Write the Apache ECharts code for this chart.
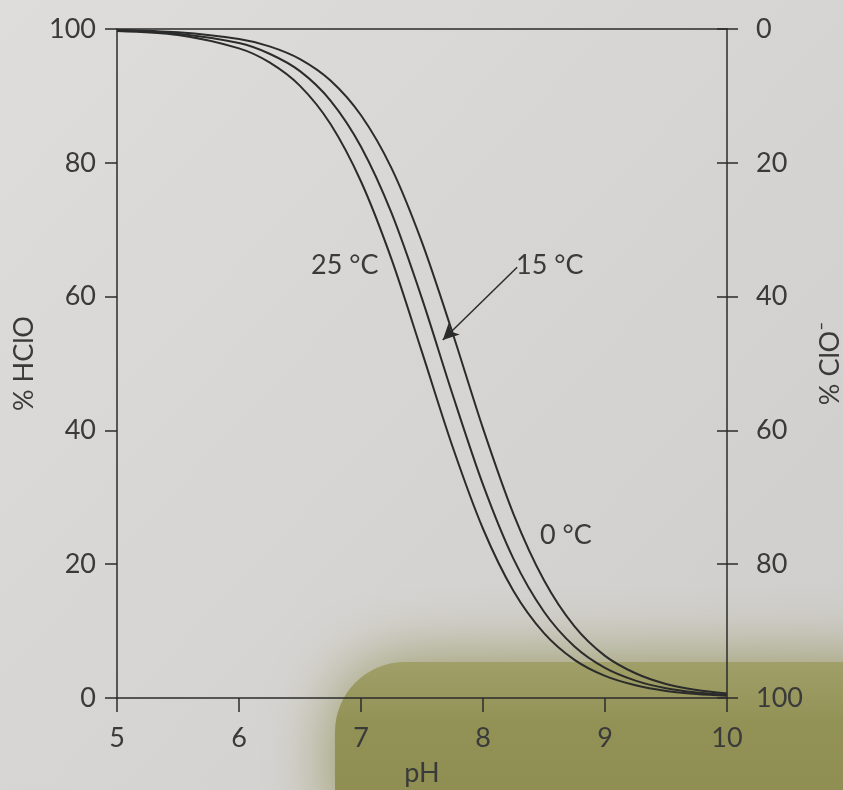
<!DOCTYPE html>
<html>
<head>
<meta charset="utf-8">
<script src="https://cdn.jsdelivr.net/npm/echarts@6/dist/echarts.min.js"></script>
<style>
html,body{margin:0;padding:0;background:#d8d6d4;overflow:hidden;}
#chart{width:843px;height:790px;}
</style>
</head>
<body>
<div id="chart"></div>
<script>
// pH values
const phValues = [5, 5.5, 6, 6.25, 6.5, 6.75, 7, 7.25, 7.5, 7.75, 8, 8.25, 8.5, 8.75, 9, 9.25, 9.5, 9.75, 10];
// % HClO
const hclo25C = [99.7, 99.1, 97.1, 95.0, 91.5, 85.8, 77.2, 65.6, 51.7, 37.6, 25.3, 16.0, 9.7, 5.7, 3.3, 1.9, 1.06, 0.6, 0.34];
const hclo15C = [99.8, 99.3, 97.9, 96.3, 93.7, 89.3, 82.4, 72.5, 59.7, 45.4, 31.9, 20.8, 12.9, 7.7, 4.5, 2.6, 1.46, 0.83, 0.47];
const hclo0C  = [99.85, 99.5, 98.5, 97.4, 95.5, 92.3, 87.1, 79.2, 68.1, 54.6, 40.3, 27.5, 17.6, 10.7, 6.3, 3.7, 2.1, 1.19, 0.67];
const xTicks = [5, 6, 7, 8, 9, 10];
const yTicks = [0, 20, 40, 60, 80, 100];
const arrow15 = [[8.28, 64.4], [7.67, 53.5]];

const pair = (xs, ys) => xs.map((x, i) => [x, ys[i]]);
const FONT = 'Lato';
const FS = 27;
const TXT = '#3a3a3a';
const LINE = '#2b2b2b';

const chart = echarts.init(document.getElementById('chart'));
const lineSeries = (name, data, extra) => Object.assign({
  name, type: 'line', data, smooth: 0.3, showSymbol: false, symbol: 'none',
  xAxisIndex: 0, yAxisIndex: 0,
  lineStyle: { color: LINE, width: 2 }, z: 5
}, extra || {});

chart.setOption({
  backgroundColor: new echarts.graphic.LinearGradient(0, 0, 1, 1, [
    { offset: 0, color: '#dfdddb' }, { offset: 1, color: '#cfcdcb' }
  ]),
  animation: false,
  grid: { left: 117, right: 116, top: 29, bottom: 92, containLabel: false, outerBoundsMode: 'none' },
  xAxis: [{
    type: 'value', min: 5, max: 10, interval: 1, position: 'bottom',
    name: 'pH', nameLocation: 'middle', nameGap: 62,
    nameTextStyle: { fontFamily: FONT, fontSize: FS, color: TXT },
    axisLine: { show: true, lineStyle: { color: LINE, width: 1.5 } },
    axisTick: { show: true, length: 14, lineStyle: { color: LINE, width: 1.5 } },
    axisLabel: { fontFamily: FONT, fontSize: FS, color: TXT, margin: 27,
      formatter: v => xTicks.includes(v) ? String(v) : '' },
    splitLine: { show: false }
  }, {
    type: 'value', min: 5, max: 10, position: 'top',
    axisLine: { show: true, lineStyle: { color: LINE, width: 1.5 } },
    axisTick: { show: false }, axisLabel: { show: false }, splitLine: { show: false }
  }],
  yAxis: [{
    type: 'value', min: 0, max: 100, interval: 20, position: 'left',
    name: '% HClO', nameLocation: 'middle', nameGap: 76, nameRotate: 90,
    nameTextStyle: { fontFamily: FONT, fontSize: FS, color: TXT },
    axisLine: { show: true, lineStyle: { color: LINE, width: 1.5 } },
    axisTick: { show: true, length: 12, lineStyle: { color: LINE, width: 1.5 } },
    axisLabel: { fontFamily: FONT, fontSize: FS, color: TXT, margin: 21,
      formatter: v => yTicks.includes(v) ? String(v) : '' },
    splitLine: { show: false }
  }, {
    type: 'value', min: 0, max: 100, interval: 20, position: 'right', inverse: true,
    name: '% ClO\u207B', nameLocation: 'middle', nameGap: 90, nameRotate: 90,
    nameTextStyle: { fontFamily: FONT, fontSize: FS, color: TXT },
    axisLine: { show: true, lineStyle: { color: LINE, width: 1.5 } },
    axisTick: { show: true, length: 11, lineStyle: { color: LINE, width: 1.5 } },
    axisLabel: { fontFamily: FONT, fontSize: FS, color: TXT, margin: 29 },
    splitLine: { show: false }
  }, {
    type: 'value', min: 0, max: 100, interval: 20, position: 'right', inverse: true,
    axisLine: { show: false },
    axisTick: { show: true, inside: true, length: 10, lineStyle: { color: LINE, width: 1.5 } },
    axisLabel: { show: false }, splitLine: { show: false }
  }],
  graphic: [
    { type: 'rect', z: -10, silent: true,
      shape: { x: 335, y: 662, width: 600, height: 200, r: 70 },
      style: {
        fill: new echarts.graphic.LinearGradient(0, 0, 0, 1, [
          { offset: 0, color: '#a09f69' }, { offset: 0.3, color: '#939256' }, { offset: 1, color: '#8c8a50' }
        ]),
        shadowBlur: 70, shadowColor: 'rgba(148,148,92,1)'
      } },
    { type: 'text', left: 311, top: 252, z: 10,
      style: { text: '25 °C', fontFamily: FONT, fontSize: FS, fill: TXT } },
    { type: 'text', left: 516, top: 252, z: 10,
      style: { text: '15 °C', fontFamily: FONT, fontSize: FS, fill: TXT } },
    { type: 'text', left: 540, top: 522, z: 10,
      style: { text: '0 °C', fontFamily: FONT, fontSize: FS, fill: TXT } }
  ],
  series: [
    lineSeries('25 °C', pair(phValues, hclo25C)),
    lineSeries('15 °C', pair(phValues, hclo15C), {
      markLine: {
        silent: true, symbol: ['none', 'arrow'], symbolSize: [12, 16],
        label: { show: false },
        lineStyle: { color: LINE, width: 1.5, type: 'solid' },
        data: [[{ coord: arrow15[0] }, { coord: arrow15[1] }]]
      }
    }),
    lineSeries('0 °C', pair(phValues, hclo0C))
  ]
});
</script>
</body>
</html>
